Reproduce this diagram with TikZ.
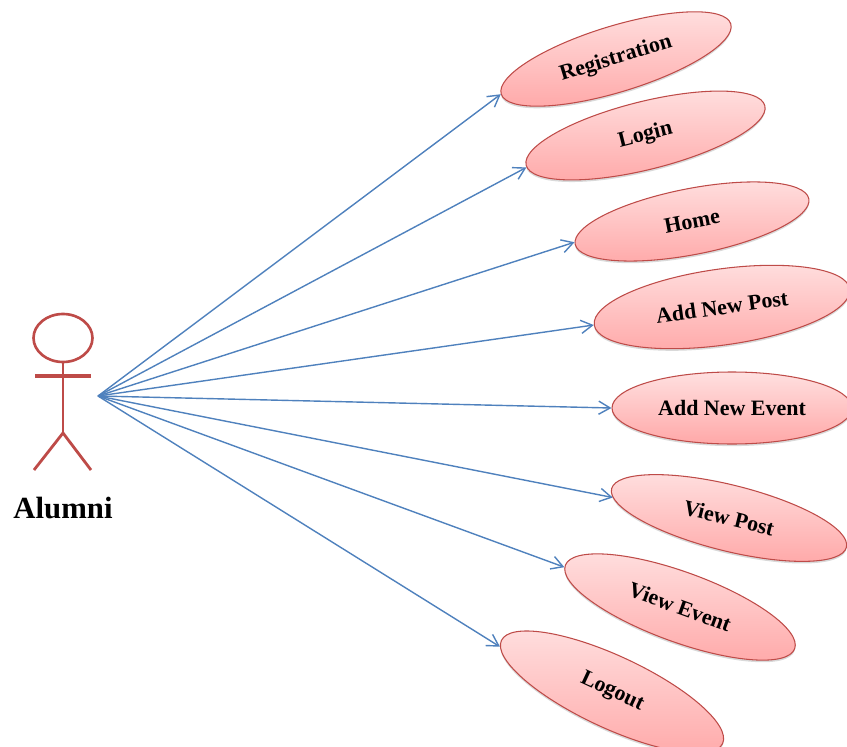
\documentclass[tikz,border=0pt]{standalone}
\usepackage{fontspec}
\setmainfont{Liberation Serif}
\usetikzlibrary{shapes.geometric,shadows,arrows.meta}
\definecolor{actorred}{HTML}{BE4B48}
\definecolor{linkblue}{HTML}{4F81BD}
\definecolor{casetop}{HTML}{FFE0E0}
\definecolor{casebot}{HTML}{FFA8A8}
\tikzset{
  usecase/.style={ellipse,draw=actorred,line width=0.6pt,inner sep=0pt,
    top color=casetop,bottom color=casebot,
    drop shadow={opacity=0.3,shadow xshift=0pt,shadow yshift=-1.2pt},
    font=\bfseries\fontsize{12.5}{14}\selectfont},
  link/.style={-{Straight Barb[length=6.5pt,width=7.5pt]},line width=0.8pt,color=linkblue},
  stick/.style={line width=1.6pt,color=actorred}
}
\begin{document}
\begin{tikzpicture}[x=0.02cm,y=-0.02cm]
  \useasboundingbox (0,0) rectangle (847,746);

  % use cases: name/x/y/angle/a/b/text
  \foreach \name/\cx/\cy/\ang/\a/\b/\lab in {
    reg/616/59/17/120/33/Registration,
    login/645.5/135.5/14/123/34/Login,
    home/692/221.5/11/119/33/Home,
    addpost/722/307/8/129/38/Add New Post,
    addevent/732/408/0/120/36/Add New Event,
    viewpost/729/518/-14/121/33/View Post,
    viewevent/680/607/-20/122/35/View Event,
    logout/612/692/-25/122/36/Logout}
    \node[usecase,rotate=\ang,minimum width=2*\a*0.02cm,minimum height=2*\b*0.02cm] (\name) at (\cx,\cy) {\lab};

  % actor
  \node[ellipse,draw=actorred,line width=1.5pt,inner sep=0pt,minimum width=1.18cm,minimum height=0.96cm] (head) at (63,338) {};
  \coordinate (armL) at (35,376);
  \coordinate (armR) at (91,376);
  \coordinate (hip) at (63,433);
  \coordinate (legL) at (34,470);
  \coordinate (legR) at (91,470);
  \draw[stick] (head.south) -- (hip);
  \draw[stick,line width=1.9pt] (armL) -- (armR);
  \draw[stick] (legL) -- (hip) -- (legR);
  \node[font=\bfseries\fontsize{17.5}{20}\selectfont] (alumni) at (63,508) {Alumni};

  \coordinate (src) at (98,396);
  \foreach \name/\side in {reg/180,login/181,home/179,addpost/180,addevent/180,viewpost/184,viewevent/181,logout/183}
    \draw[link] (src) -- (\name.\side);
\end{tikzpicture}
\end{document}
